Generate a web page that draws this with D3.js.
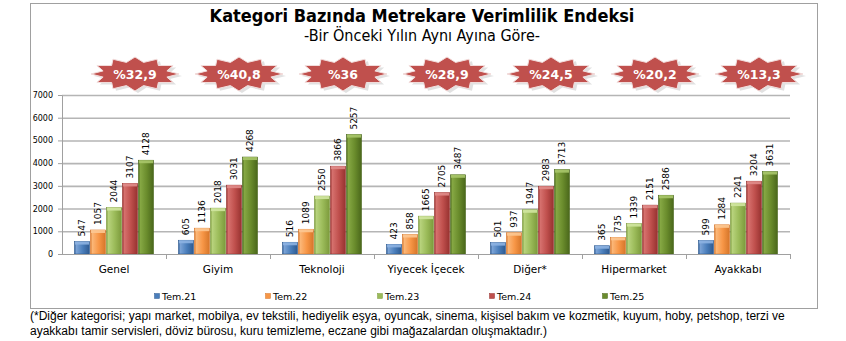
<!DOCTYPE html>
<html>
<head>
<meta charset="utf-8">
<script src="https://cdn.jsdelivr.net/npm/d3@7"></script>
<style>
  html, body { margin: 0; padding: 0; background: #fff; }
  svg { display: block; }
</style>
</head>
<body>
<svg id="chart" width="846" height="341"></svg>
<script>
// ---- data ----
const categories = ["Genel", "Giyim", "Teknoloji", "Yiyecek İçecek", "Diğer*", "Hipermarket", "Ayakkabı"];
const seriesNames = ["Tem.21", "Tem.22", "Tem.23", "Tem.24", "Tem.25"];
const tem21 = [547, 605, 516, 423, 501, 365, 599];
const tem22 = [1057, 1136, 1089, 858, 937, 735, 1284];
const tem23 = [2044, 2018, 2550, 1665, 1947, 1339, 2241];
const tem24 = [3107, 3031, 3866, 2705, 2983, 2151, 3204];
const tem25 = [4128, 4268, 5257, 3487, 3713, 2586, 3631];
const growth = ["%32,9", "%40,8", "%36", "%28,9", "%24,5", "%20,2", "%13,3"];
const yTicks = [0, 1000, 2000, 3000, 4000, 5000, 6000, 7000];
const titleText = "Kategori Bazında Metrekare Verimlilik Endeksi";
const subtitleText = "-Bir Önceki Yılın Aynı Ayına Göre-";
const footLines = [
  "(*Diğer kategorisi; yapı market, mobilya, ev tekstili, hediyelik eşya, oyuncak, sinema, kişisel bakım ve kozmetik, kuyum, hoby, petshop, terzi ve",
  "ayakkabı tamir servisleri, döviz bürosu, kuru temizleme, eczane gibi mağazalardan oluşmaktadır.)"
];

const seriesValues = [tem21, tem22, tem23, tem24, tem25];
const colors = [
  { base: "#4a7ebb", light: "#7ba3d6", dark: "#2e5a91", cap: "#8db3e2" },
  { base: "#f79646", light: "#fbb778", dark: "#d6762a", cap: "#fcc892" },
  { base: "#9bbb59", light: "#b8d37d", dark: "#7c9a3c", cap: "#d0e5a0" },
  { base: "#c0504d", light: "#d6716e", dark: "#973230", cap: "#e08c89" },
  { base: "#6a8c2c", light: "#86a844", dark: "#4a671b", cap: "#a8c66a" }
];

const svg = d3.select("#chart");
const defs = svg.append("defs");

colors.forEach((c, i) => {
  const g = defs.append("linearGradient").attr("id", "grad" + i)
    .attr("x1", "0%").attr("x2", "100%").attr("y1", "0%").attr("y2", "0%");
  g.append("stop").attr("offset", "0%").attr("stop-color", c.dark);
  g.append("stop").attr("offset", "12%").attr("stop-color", c.light);
  g.append("stop").attr("offset", "55%").attr("stop-color", c.base);
  g.append("stop").attr("offset", "100%").attr("stop-color", c.dark);
});

// frame
svg.append("rect").attr("x", 30.5).attr("y", 3.5).attr("width", 787).attr("height", 305)
  .attr("fill", "#fff").attr("stroke", "#a0a0a0").attr("stroke-width", 1);

// title
svg.append("text").attr("x", 422).attr("y", 22).attr("text-anchor", "middle")
  .attr("font-family", "'DejaVu Sans Condensed', 'DejaVu Sans', sans-serif")
  .attr("font-weight", "bold").attr("font-size", 18).attr("fill", "#000").text(titleText);
svg.append("text").attr("x", 422).attr("y", 41).attr("text-anchor", "middle")
  .attr("font-family", "'DejaVu Sans Condensed', 'DejaVu Sans', sans-serif")
  .attr("font-size", 16).attr("fill", "#000").text(subtitleText);

// scales
const x0 = d3.scaleBand().domain(categories).range([62, 790]).paddingInner(0).paddingOuter(0);
const x1 = d3.scaleBand().domain(seriesNames).range([0, x0.bandwidth()]).paddingInner(0).paddingOuter(0.75);
const y = d3.scaleLinear().domain([0, 7000]).range([254, 95]);

// gridlines
const grid = svg.append("g").attr("transform", "translate(62,0)")
  .call(d3.axisLeft(y).tickValues(yTicks.filter(d => d > 0)).tickSize(-(790 - 62)).tickFormat(""));
grid.select(".domain").remove();
grid.selectAll("line").attr("stroke", "#b5b5b5").attr("stroke-width", 1.6);

// y axis
const yAxis = svg.append("g").attr("transform", "translate(62,0)")
  .call(d3.axisLeft(y).tickValues(yTicks).tickFormat(d3.format("d")).tickSize(4).tickPadding(5).tickSizeOuter(0));
yAxis.select(".domain").attr("stroke", "#a0a0a0");
yAxis.selectAll("line").attr("stroke", "#a0a0a0");
yAxis.selectAll("text").attr("font-family", "'DejaVu Sans', sans-serif").attr("font-size", 8).attr("fill", "#000");

// bars
const groups = svg.append("g").selectAll("g").data(categories).join("g")
  .attr("transform", d => `translate(${x0(d)},0)`);

seriesNames.forEach((s, si) => {
  const vals = seriesValues[si];
  groups.append("rect")
    .attr("x", x1(s) + 0.5)
    .attr("y", (d, ci) => y(vals[ci]))
    .attr("width", x1.bandwidth() - 1)
    .attr("height", (d, ci) => y(0) - y(vals[ci]))
    .attr("fill", `url(#grad${si})`)
    .attr("stroke", colors[si].dark).attr("stroke-width", 0.6);
  groups.append("rect")
    .attr("x", x1(s) + 1)
    .attr("y", (d, ci) => y(vals[ci]))
    .attr("width", x1.bandwidth() - 2)
    .attr("height", 3)
    .attr("fill", colors[si].cap).attr("opacity", 0.9);
  groups.append("text")
    .attr("transform", (d, ci) => `translate(${x1(s) + x1.bandwidth() / 2 + 3.3},${y(vals[ci]) - 5}) rotate(-90)`)
    .attr("font-family", "'DejaVu Sans', sans-serif").attr("font-size", 9).attr("fill", "#000")
    .text((d, ci) => vals[ci]);
});

// x axis
svg.append("line").attr("x1", 62).attr("x2", 790).attr("y1", 254.5).attr("y2", 254.5)
  .attr("stroke", "#a0a0a0");
const xb = d3.scaleLinear().domain([0, categories.length]).range([62, 790]);
svg.append("g").selectAll("line").data(d3.range(1, categories.length + 1)).join("line")
  .attr("x1", d => Math.round(xb(d)) + 0.5).attr("x2", d => Math.round(xb(d)) + 0.5)
  .attr("y1", 254).attr("y2", 259).attr("stroke", "#a0a0a0");
svg.append("g").selectAll("text").data(categories).join("text")
  .attr("x", d => x0(d) + x0.bandwidth() / 2).attr("y", 273).attr("text-anchor", "middle")
  .attr("font-family", "'DejaVu Sans', sans-serif").attr("font-size", 10.5).attr("fill", "#000")
  .text(d => d);

// badges
function starPath(cx, cy) {
  const n = 12, rxO = 44, ryO = 17, rxI = 33, ryI = 12;
  const pts = [];
  for (let k = 0; k < n * 2; k++) {
    const a = Math.PI * k / n + Math.PI;
    const outer = k % 2 === 0;
    pts.push([cx + Math.cos(a) * (outer ? rxO : rxI), cy + Math.sin(a) * (outer ? ryO : ryI)]);
  }
  return d3.line()(pts) + "Z";
}
const badges = svg.append("g").selectAll("g").data(categories).join("g");
badges.append("path")
  .attr("d", (d) => starPath(x0(d) + x0.bandwidth() / 2 + 24, 76))
  .attr("fill", "#d9d9d9").attr("opacity", 0.8);
badges.append("path")
  .attr("d", (d) => starPath(x0(d) + x0.bandwidth() / 2 + 21, 74))
  .attr("fill", "#c0504d").attr("stroke", "#f2dcdb").attr("stroke-width", 1);
badges.append("text")
  .attr("x", d => x0(d) + x0.bandwidth() / 2 + 21).attr("y", 78.5).attr("text-anchor", "middle")
  .attr("font-family", "'DejaVu Sans', sans-serif").attr("font-weight", "bold").attr("font-size", 12.5)
  .attr("fill", "#fff")
  .text((d, i) => growth[i]);

// legend
const legX = [157, 268, 380, 492, 605];
const leg = svg.append("g").selectAll("g").data(seriesNames).join("g")
  .attr("transform", (d, i) => `translate(${legX[i]},296)`);
leg.append("rect").attr("x", -2.5).attr("y", -2.5).attr("width", 5).attr("height", 5)
  .attr("fill", (d, i) => colors[i].base).attr("stroke", (d, i) => colors[i].dark).attr("stroke-width", 0.5);
leg.append("text").attr("x", 5).attr("y", 3.5)
  .attr("font-family", "'DejaVu Sans', sans-serif").attr("font-size", 9.5).attr("fill", "#000")
  .text(d => d);

// footnote
svg.append("g").selectAll("text").data(footLines).join("text")
  .attr("x", 30).attr("y", (d, i) => 320 + i * 15)
  .attr("font-family", "'Liberation Sans Narrow', 'Liberation Sans', Arial, sans-serif")
  .attr("font-size", 12).attr("fill", "#000")
  .text(d => d);
</script>
</body>
</html>
